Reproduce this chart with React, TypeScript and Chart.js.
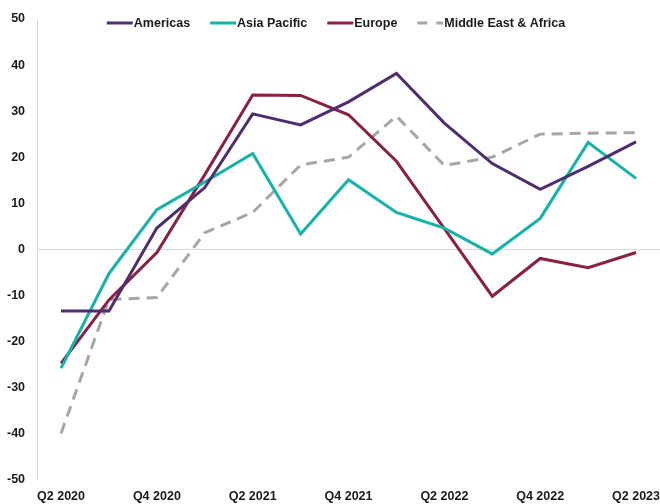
import React, { useEffect, useRef } from 'react';
import { Chart, registerables } from 'chart.js';

Chart.register(...registerables);

const quarters = [
  'Q2 2020', 'Q3 2020', 'Q4 2020', 'Q1 2021', 'Q2 2021', 'Q3 2021', 'Q4 2021',
  'Q1 2022', 'Q2 2022', 'Q3 2022', 'Q4 2022', 'Q1 2023', 'Q2 2023',
];
const americas = [-13.4, -13.4, 4.6, 13.4, 29.4, 27.0, 32.0, 38.2, 27.4, 18.6, 13.0, 18.0, 23.3];
const asiaPacific = [-25.8, -5.3, 8.6, 14.6, 20.8, 3.3, 15.1, 8.0, 4.6, -1.0, 6.7, 23.2, 15.4];
const europe = [-24.8, -11.0, -0.7, 16.2, 33.5, 33.4, 29.2, 19.1, 4.5, -10.2, -2.0, -4.0, -0.7];
const middleEastAfrica = [-40.0, -10.9, -10.5, 3.6, 8.0, 18.3, 20.0, 28.9, 18.2, 20.0, 25.0, 25.2, 25.3];

const seriesNames = ['Americas', 'Asia Pacific', 'Europe', 'Middle East & Africa'];
const yMin = -50;
const yMax = 50;
const yStep = 10;

const FONT_FAMILY = '"Liberation Sans", Arial, sans-serif';
const FONT_SIZE = 12.5;
const TEXT_COLOR = '#1a1a1a';
const AXIS_COLOR = '#d9d9d9';
const COLORS = ['#4f2d6f', '#12b3a8', '#8a1f47', '#a6a6a6'];

const legendPlugin = {
  id: 'topLegend',
  afterDraw(chart: any) {
    const ctx = chart.ctx as CanvasRenderingContext2D;
    ctx.save();
    ctx.font = `bold ${FONT_SIZE}px ${FONT_FAMILY}`;
    const items = chart.data.datasets.map((ds: any) => ({
      label: ds.label,
      color: ds.borderColor,
      dashed: Array.isArray(ds.borderDash) && ds.borderDash.length > 0,
    }));
    const lineLen = 26;
    const textGap = 1;
    const itemGap = 20;
    const widths = items.map((it: any) => lineLen + textGap + ctx.measureText(it.label).width);
    const total = widths.reduce((a: number, b: number) => a + b, 0) + itemGap * (items.length - 1);
    let x = 336 - total / 2;
    const y = 23;
    items.forEach((it: any, i: number) => {
      ctx.strokeStyle = it.color;
      ctx.lineWidth = 3;
      ctx.setLineDash(it.dashed ? [10, 9] : []);
      ctx.beginPath();
      ctx.moveTo(x, y);
      ctx.lineTo(x + lineLen, y);
      ctx.stroke();
      ctx.setLineDash([]);
      ctx.fillStyle = TEXT_COLOR;
      ctx.textBaseline = 'middle';
      ctx.textAlign = 'left';
      ctx.fillText(it.label, x + lineLen + textGap, y + 0.5);
      x += widths[i] + itemGap;
    });
    ctx.restore();
  },
};

export default function App() {
  const canvasRef = useRef<HTMLCanvasElement | null>(null);

  useEffect(() => {
    if (!canvasRef.current) return;
    const seriesValues = [americas, asiaPacific, europe, middleEastAfrica];
    const chart = new Chart(canvasRef.current, {
      type: 'line',
      data: {
        labels: quarters,
        datasets: seriesValues.map((vals, i) => ({
          label: seriesNames[i],
          data: vals,
          borderColor: COLORS[i],
          backgroundColor: COLORS[i],
          borderWidth: 3,
          borderDash: i === 3 ? [11, 7] : [],
          pointRadius: 0,
          tension: 0,
          fill: false,
        })),
      },
      options: {
        animation: false,
        responsive: true,
        maintainAspectRatio: false,
        layout: { padding: { top: 19, left: 4, right: 0, bottom: 0 } },
        plugins: {
          legend: { display: false },
          tooltip: { enabled: false },
        },
        scales: {
          x: {
            offset: true,
            grid: {
              display: true,
              drawOnChartArea: false,
              drawTicks: true,
              tickLength: 9.5,
              color: 'transparent',
              tickColor: 'transparent',
            },
            border: { display: false },
            ticks: {
              autoSkip: false,
              maxRotation: 0,
              minRotation: 0,
              padding: 0,
              color: TEXT_COLOR,
              font: { family: FONT_FAMILY, size: FONT_SIZE, weight: 'bold' },
              callback: (_v: any, i: number) => (i % 2 === 0 ? quarters[i] : ''),
            },
          },
          y: {
            min: yMin,
            max: yMax,
            grid: {
              drawTicks: true,
              tickLength: 9,
              tickColor: 'transparent',
              color: (c: any) => (c.tick && c.tick.value === 0 ? AXIS_COLOR : 'transparent'),
              lineWidth: 1,
            },
            border: { display: true, color: AXIS_COLOR, width: 1 },
            ticks: {
              stepSize: yStep,
              padding: 3,
              color: TEXT_COLOR,
              font: { family: FONT_FAMILY, size: FONT_SIZE, weight: 'bold' },
            },
          },
        },
      },
      plugins: [legendPlugin],
    });
    return () => chart.destroy();
  }, []);

  return (
    <div style={{ position: 'fixed', left: 0, top: 0, width: 660, height: 504, background: '#fff' }}>
      <canvas ref={canvasRef} />
    </div>
  );
}
